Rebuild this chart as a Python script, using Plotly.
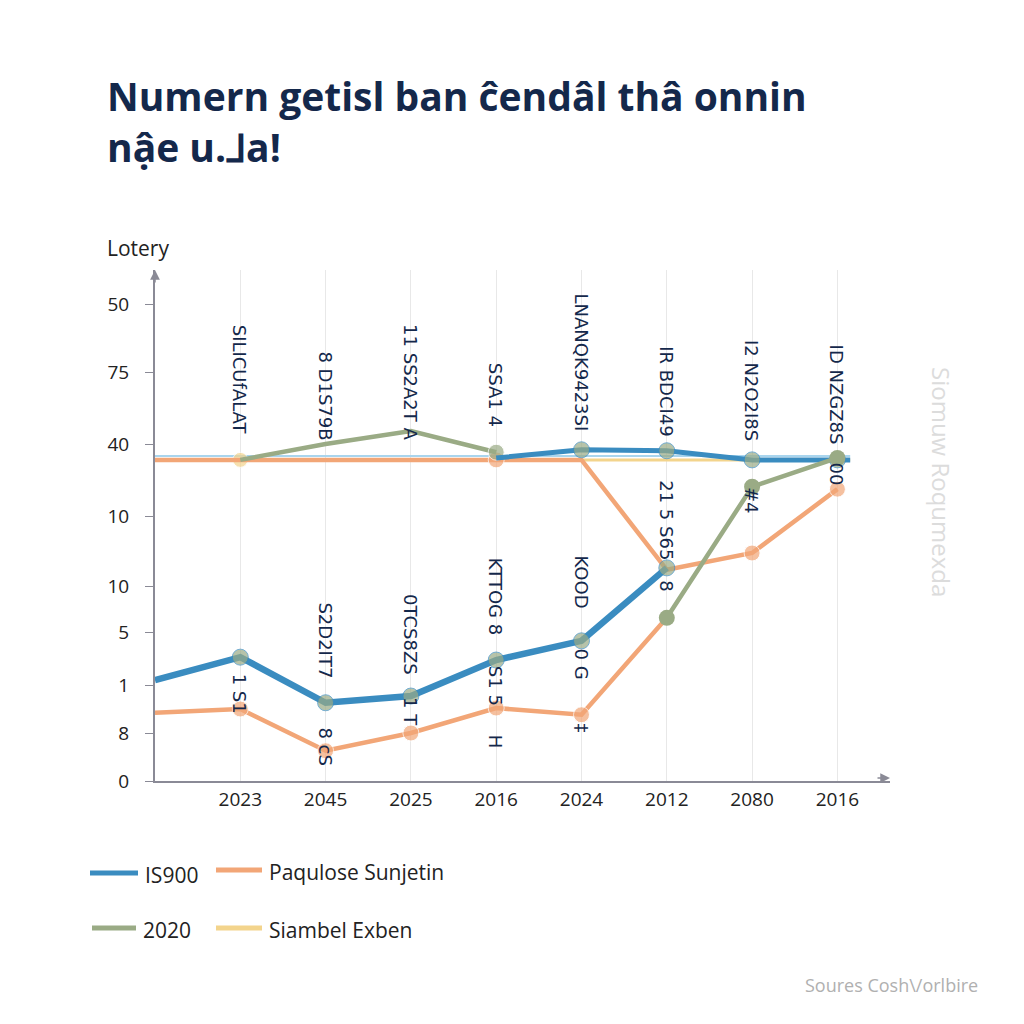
import plotly.graph_objects as go

# ---------------- data ----------------
x_ticks = [1, 2, 3, 4, 5, 6, 7, 8]
x_labels = ["2023", "2045", "2025", "2016", "2024", "2012", "2080", "2016"]
y_tickvals = [0, 10, 20, 31, 40.6, 55.2, 70.2, 85.2, 99.2]
y_ticktext = ["0", "8", "1", "5", "10", "10", "40", "75", "50"]

blue_low_x = [0, 1, 2, 3, 4, 5, 6]
blue_low_y = [21.0, 25.8, 16.3, 17.7, 25.2, 29.2, 44.4]
blue_high_x = [4, 5, 6, 7, 8, 8.15]
blue_high_y = [67.3, 69.0, 68.8, 66.9, 66.9, 66.9]
lightblue_x = [0, 8.15]
lightblue_y = [67.7, 67.7]
orange_high_x = [0, 1, 2, 3, 4, 5, 6, 7, 8]
orange_high_y = [66.9, 66.9, 66.9, 66.9, 66.9, 66.9, 44.0, 47.5, 60.8]
orange_low_x = [0, 1, 2, 3, 4, 5, 6]
orange_low_y = [14.2, 15.0, 6.3, 10.0, 15.2, 13.8, 34.0]
green_high_x = [1, 2, 3, 4]
green_high_y = [66.9, 70.2, 72.9, 68.5]
green_low_x = [6, 7, 8]
green_low_y = [34.0, 61.3, 67.3]
yellow_x = [0, 1, 8.15]
yellow_y = [66.9, 66.9, 66.9]

legend_names = ["IS900", "Paqulose Sunjetin", "2020", "Siambel Exben"]

point_labels = [
    (1, 380, "SILICUfALAT"), (2, 396, "8 D1S79B"), (3, 382, "11 SS2A2T A"),
    (4, 395, "SSA1 4"), (5, 362, "LNANQK9423SI"), (6, 392, "IR BDCI49"),
    (7, 390, "I2 N2O2I8S"), (8, 395, "ID NZGZ8S"),
    (6, 520, "21 5 S65"), (7, 500, "#4"), (8, 474, "00"),
    (1, 694, "1 S1"), (2, 640, "S2D2IT7"), (2, 747, "8 cS"),
    (3, 635, "0TCS8ZS"), (3, 712, "1 T"), (4, 596, "KTTOG 8"),
    (4, 686, "S1 5"), (4, 742, "H"), (5, 582, "KOOD"), (5, 664, "0 G"),
    (5, 728, "‡"), (6, 586, "8"),
]

# ---------------- styles ----------------
BLUE = "#3a8cc0"
ORANGE = "#f2a677"
GREEN = "#9aab85"
YELLOW = "#f3d48c"
LIGHTBLUE = "#a9d5ee"
NAVY = "#14284b"

OFF = 8          # page body margin
W = H = 1024 - OFF
# plot area in target pixels
L, R, T, B = 155, 890, 270, 781


def px(X):
    return (X - L) / (R - L)


def py(Y):
    return (B - Y) / (B - T)


fig = go.Figure()

fig.add_trace(go.Scatter(x=lightblue_x, y=lightblue_y, mode="lines",
                         line=dict(color=LIGHTBLUE, width=2), showlegend=False))
fig.add_trace(go.Scatter(x=yellow_x, y=yellow_y, mode="lines+markers",
                         line=dict(color=YELLOW, width=3),
                         marker=dict(size=[0, 15, 0], color=YELLOW), showlegend=False))
fig.add_trace(go.Scatter(x=orange_high_x, y=orange_high_y, mode="lines+markers",
                         line=dict(color=ORANGE, width=4.5),
                         marker=dict(size=[0, 0, 0, 0, 16, 0, 0, 16, 16], color=ORANGE),
                         showlegend=False))
fig.add_trace(go.Scatter(x=green_high_x, y=green_high_y, mode="lines+markers",
                         line=dict(color=GREEN, width=4.5),
                         marker=dict(size=[0, 0, 0, 16], color=GREEN), showlegend=False))
fig.add_trace(go.Scatter(x=blue_high_x, y=blue_high_y, mode="lines+markers",
                         line=dict(color=BLUE, width=5),
                         marker=dict(size=[0, 16, 16, 16, 16, 0], color=GREEN), showlegend=False))
fig.add_trace(go.Scatter(x=orange_low_x, y=orange_low_y, mode="lines+markers",
                         line=dict(color=ORANGE, width=4.5),
                         marker=dict(size=[0, 16, 16, 16, 16, 16, 0], color=ORANGE),
                         showlegend=False))
fig.add_trace(go.Scatter(x=blue_low_x, y=blue_low_y, mode="lines+markers",
                         line=dict(color=BLUE, width=6.5),
                         marker=dict(size=[0, 16, 16, 16, 16, 16, 16], color=GREEN),
                         showlegend=False))
fig.add_trace(go.Scatter(x=green_low_x, y=green_low_y, mode="lines+markers",
                         line=dict(color=GREEN, width=4.5),
                         marker=dict(size=16, color=GREEN), showlegend=False))

annotations = []
for xi, Y, txt in point_labels:
    annotations.append(dict(x=xi, xref="x", y=py(Y), yref="paper", text=txt,
                            showarrow=False, textangle=90,
                            xanchor="center", yanchor="middle",
                            font=dict(family="DejaVu Sans", size=18, color=NAVY)))

# title
annotations.append(dict(x=px(105), y=py(121), xref="paper", yref="paper",
                        text="<b>Numern getisl ban ĉendâl thâ onnin<br>nậe u.⅃a!</b>",
                        showarrow=False, xanchor="left", yanchor="middle", align="left",
                        font=dict(family="Open Sans", size=39, color=NAVY)))
# axis title
annotations.append(dict(x=px(105), y=py(248), xref="paper", yref="paper",
                        text="Lotery", showarrow=False, xanchor="left", yanchor="middle",
                        font=dict(family="Open Sans", size=21, color="#222222")))
# axis arrows
annotations.append(dict(x=0, y=1.0, xref="paper", yref="paper", ax=0, ay=14,
                        showarrow=True, arrowhead=2, arrowsize=1.3, arrowwidth=1.5,
                        arrowcolor="#8a8a96", text=""))
annotations.append(dict(x=1.0, y=py(778), xref="paper", yref="paper", ax=-14, ay=0,
                        showarrow=True, arrowhead=2, arrowsize=1.3, arrowwidth=1.5,
                        arrowcolor="#8a8a96", text=""))
# right faint text
annotations.append(dict(x=px(942), y=py(482), xref="paper", yref="paper",
                        text="Siomuw Roqumexda", showarrow=False, textangle=90,
                        xanchor="center", yanchor="middle",
                        font=dict(family="Open Sans", size=24, color="#dcdcdc")))
# source
annotations.append(dict(x=px(980), y=py(985), xref="paper", yref="paper",
                        text="Soures Cosh\\/orlbire", showarrow=False,
                        xanchor="right", yanchor="middle",
                        font=dict(family="Open Sans", size=18, color="#b0b0b0")))

# manual legend
legend_items = [
    (legend_names[0], BLUE, 90, 138, 873),
    (legend_names[1], ORANGE, 216, 262, 870),
    (legend_names[2], GREEN, 92, 136, 928),
    (legend_names[3], YELLOW, 216, 262, 928),
]
shapes = []
for name, col, x0, x1, Y in legend_items:
    shapes.append(dict(type="line", xref="paper", yref="paper",
                       x0=px(x0), x1=px(x1), y0=py(Y), y1=py(Y),
                       line=dict(color=col, width=5)))
    annotations.append(dict(x=px(x1 + 5), y=py(Y + 2), xref="paper", yref="paper",
                            text=name, showarrow=False, xanchor="left", yanchor="middle",
                            font=dict(family="Open Sans", size=21, color="#222222")))

fig.update_layout(
    width=W, height=H,
    margin=dict(l=L - OFF, r=W - (R - OFF), t=T - OFF, b=H - (B - OFF)),
    paper_bgcolor="white", plot_bgcolor="white",
    annotations=annotations, shapes=shapes, showlegend=False,
)
fig.update_xaxes(range=[0, (R - L) / 85.3], tickvals=x_ticks, ticktext=x_labels,
                 showgrid=True, gridcolor="#e8e8e8", gridwidth=1,
                 showline=True, linecolor="#8a8a96", linewidth=2, zeroline=False,
                 ticks="", tickfont=dict(family="Open Sans", size=19, color="#222222"))
fig.update_yaxes(range=[0, (B - T) / 4.8], tickvals=y_tickvals, ticktext=y_ticktext,
                 showgrid=False, showline=True, linecolor="#8a8a96", linewidth=2,
                 zeroline=False, ticks="outside", ticklen=8, tickcolor="#8a8a96",
                 ticklabelstandoff=12,
                 tickfont=dict(family="Open Sans", size=19, color="#222222"))

fig.write_html("out.html")
